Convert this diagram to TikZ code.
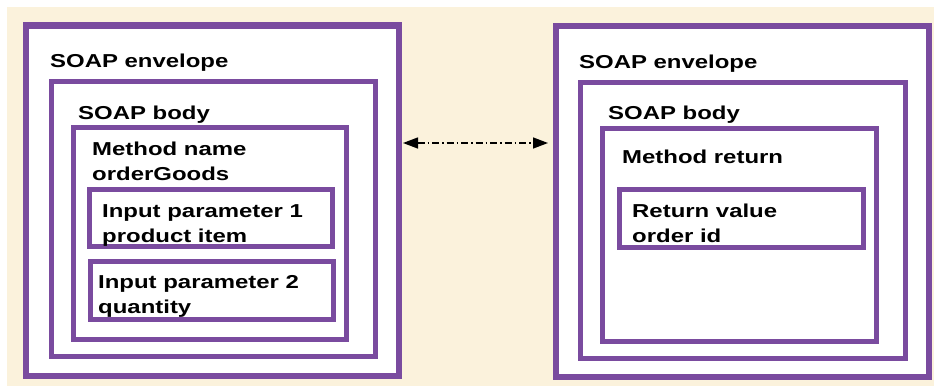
\documentclass[tikz,border=0pt]{standalone}
\usepackage{fontspec}
\setmainfont{Liberation Sans}[FakeStretch=1.28]
\usetikzlibrary{arrows.meta}
\definecolor{panel}{HTML}{FBF2DC}
\definecolor{frame}{HTML}{7A4B9F}
\tikzset{
  x=1pt, y=-1pt,
  box/.style={draw=frame, line width=5pt, fill=white, inner sep=0pt},
  outerbox/.style={box, line width=6.5pt},
  lbl/.style={anchor=base west, inner sep=0pt, font=\bfseries\fontsize{18.7}{25}\selectfont, align=left},
  link/.style={line width=1.4pt, dash pattern=on 7pt off 3pt on 1.5pt off 3pt,
    >={Triangle[length=15pt,width=11pt]}, <->}
}
% \boxat[style]{x1}{y1}{x2}{y2}{name}: a framed box between two corners
\newcommand{\boxat}[6][box]{%
  \node[#1, minimum width={#4-#2}, minimum height={#5-#3}] (#6) at ({(#2+#4)/2},{(#3+#5)/2}) {};}
\begin{document}
\begin{tikzpicture}
\useasboundingbox (0,0) rectangle (938,386);
\fill[panel] (7,7) rectangle (934,386);

% request message (two-line labels are placed by their last baseline)
\boxat[outerbox]{26}{25.5}{399}{376}{envA}
\boxat{51.5}{81.5}{375.5}{356.5}{bodyA}
\boxat{73.5}{127.5}{346.5}{339.5}{methA}
\boxat{89.5}{189.5}{332.5}{246.5}{parA}
\boxat{90.5}{261.5}{333.5}{319.5}{parB}
\node[lbl] (tEnvA) at (50,67) {SOAP envelope};
\node[lbl] (tBodyA) at (78,119) {SOAP body};
\node[lbl] (tMethA) at (92,180) {Method name\\orderGoods};
\node[lbl] (tParA) at (102,242) {Input parameter 1\\product item};
\node[lbl] (tParB) at (98,313) {Input parameter 2\\quantity};

% response message
\boxat[outerbox]{556}{26}{929}{377}{envB}
\boxat{580.5}{82.5}{905.5}{358.5}{bodyB}
\boxat{602.5}{128.5}{876.5}{341.5}{methB}
\boxat{619.5}{189.5}{863.5}{247.5}{retB}
\node[lbl] (tEnvB) at (579,68) {SOAP envelope};
\node[lbl] (tBodyB) at (608,119) {SOAP body};
\node[lbl] (tMethB) at (622,163) {Method return};
\node[lbl] (tRetB) at (632,242) {Return value\\order id};

% exchange between the two messages
\coordinate (pA) at (403,143);
\coordinate (pB) at (548,143);
\draw[link] (pA) -- (pB);
\end{tikzpicture}
\end{document}
